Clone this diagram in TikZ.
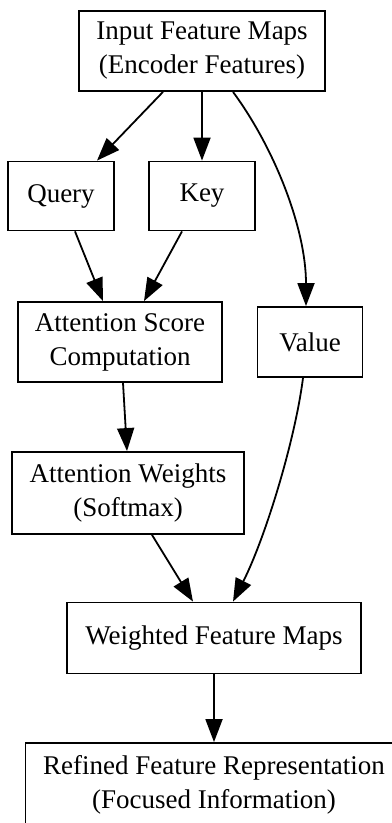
\documentclass[tikz,border=0pt]{standalone}
\usepackage{fontspec}
\setmainfont{Liberation Serif}
\usetikzlibrary{arrows.meta,calc}
\begin{document}
\begin{tikzpicture}[x=0.5pt,y=-0.5pt,
  box/.style={draw,line width=0.9pt,rectangle,inner sep=0pt,align=center,
    font=\fontsize{13.5}{17}\selectfont},
  edge/.style={line width=0.9pt,-{Triangle[length=11.5pt,width=8.5pt]}}]
\useasboundingbox[fill=white] (0,0) rectangle (391,823);
% nodes (sizes in pt)
\node[box,minimum width=123pt,minimum height=40pt] (in) at (202,51) {Input Feature Maps\\(Encoder Features)};
\node[box,minimum width=53pt,minimum height=34.5pt] (q) at (61,196) {Query};
\node[box,minimum width=53pt,minimum height=34.5pt] (k) at (202,196) {Key};
\node[box,minimum width=102pt,minimum height=40pt] (asc) at (120,342) {Attention Score\\Computation};
\node[box,minimum width=52.5pt,minimum height=35pt] (v) at (310,342) {Value};
\node[box,minimum width=116pt,minimum height=41pt] (aw) at (128,493) {Attention Weights\\(Softmax)};
\node[box,minimum width=147pt,minimum height=35.5pt] (wfm) at (214,638) {Weighted Feature Maps};
\node[box,minimum width=188.5pt,minimum height=42pt] (rf) at (214,785) {Refined Feature Representation\\(Focused Information)};
% connectors
\draw[edge] ($(in.south)+(-39,0)$) -- ($(q.north)+(36,0)$);
\draw[edge] (in.south) -- (k.north);
\draw[edge] ($(in.south)+(31,0)$) .. controls ($(in.south)+(73,57)$) and ($(v.north)+(-4,-77)$) .. ($(v.north)+(-4,0)$);
\draw[edge] ($(q.south)+(14,0)$) -- ($(asc.north)+(-17,0)$);
\draw[edge] ($(k.south)+(-20,0)$) -- ($(asc.north)+(24,0)$);
\draw[edge] ($(asc.south)+(3,0)$) -- ($(aw.north)+(-1,0)$);
\draw[edge] ($(aw.south)+(24,0)$) -- ($(wfm.north)+(-21,0)$);
\draw[edge] ($(v.south)+(-7,0)$) .. controls ($(v.south)+(-15,63)$) and ($(wfm.north)+(51,-63)$) .. ($(wfm.north)+(19,0)$);
\draw[edge] (wfm.south) -- (rf.north);
\end{tikzpicture}
\end{document}
